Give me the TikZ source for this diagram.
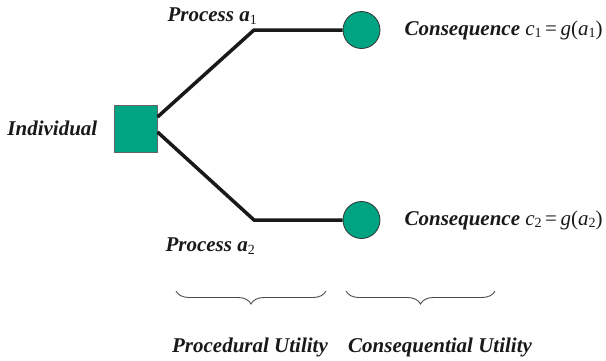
\documentclass[tikz,border=0pt]{standalone}
\usepackage{fontspec}
\setmainfont{Liberation Serif}
\usetikzlibrary{positioning,decorations.pathreplacing}
\definecolor{decgreen}{RGB}{0,164,130}
\newcommand{\lowidx}[1]{\raisebox{-0.3ex}{\fontsize{14}{14}\selectfont\mdseries\upshape #1}}
\newcommand{\consq}[1]{Consequence {\mdseries\itshape c\lowidx{#1}\,\upshape=\,\itshape g\upshape(\itshape a\lowidx{#1}\upshape)}}

\begin{document}
\begin{tikzpicture}[x=1pt,y=-1pt]
		\tikzstyle{every node}+=[inner sep=0pt]
		\tikzstyle{lbl}=[font=\fontsize{21}{25}\selectfont\bfseries\itshape,text=black!90]
		\tikzstyle{decision}=[draw=black!60,line width=1pt,fill=decgreen,minimum width=43pt,minimum height=47pt]
		\tikzstyle{chance}=[circle,draw=black!80,line width=0.8pt,fill=decgreen,minimum size=37pt]
		\tikzstyle{branch}=[line width=3.5pt,draw=black!90]
		\tikzstyle{brc}=[decorate,decoration={brace,mirror,amplitude=13pt},line width=0.9pt,draw=black!70]
		\useasboundingbox (0,0) rectangle (606,360);
		\node[decision] (ind) at (135.5,128.5) {};
		\node[lbl,left=16pt of ind] (indl) {Individual};
		\coordinate (up) at (254,30);
		\coordinate (dn) at (254,220);
		\node[chance] (c1) at (361.5,30) {};
		\node[chance] (c2) at (361.5,220) {};
		\draw[branch] ([yshift=11.5pt]ind.east) -- (up) -- (c1.west);
		\draw[branch] ([yshift=-3.5pt]ind.east) -- (dn) -- (c2.west);
		\node[lbl,above left=5pt and -3pt of up] (pa1) {Process \textit{a}\lowidx{1}};
		\node[lbl,below left=18pt and -1pt of dn] (pa2) {Process \textit{a}\lowidx{2}};
		\node[lbl,right=24pt of c1] (cq1) {\consq{1}};
		\node[lbl,right=24pt of c2] (cq2) {\consq{2}};
		\coordinate (b1l) at (176,291);
		\coordinate (b1r) at (326,291);
		\coordinate (b2l) at (346,291);
		\coordinate (b2r) at (495,291);
		\draw[brc] (b1l) -- (b1r);
		\draw[brc] (b2l) -- (b2r);
		\node[lbl,anchor=base] (pu) at (250,352) {Procedural Utility};
		\node[lbl,anchor=base west] (cu) at (348,352) {Consequential Utility};
	\end{tikzpicture}
\end{document}
